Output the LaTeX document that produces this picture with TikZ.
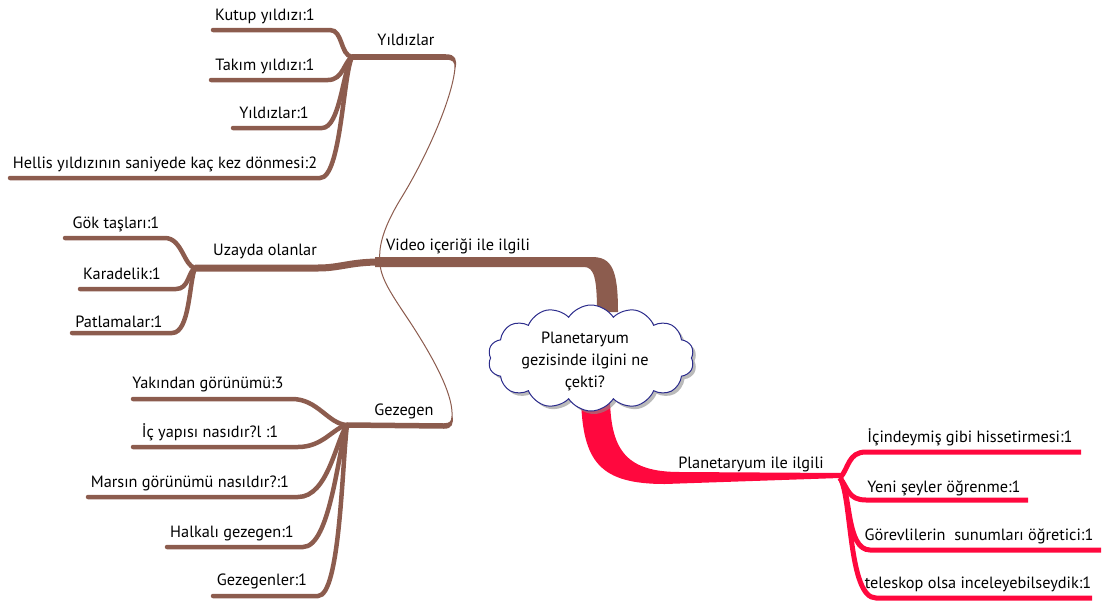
\documentclass[tikz,border=0pt]{standalone}
\usepackage{fontspec}
\setmainfont{PT Sans}
\usetikzlibrary{shapes.symbols,shadows}
\definecolor{brn}{RGB}{140,92,78}
\definecolor{rd}{RGB}{255,8,62}
\definecolor{cloudline}{RGB}{44,44,140}
\begin{document}
\begin{tikzpicture}[x=1pt,y=-1pt,
  lbl/.style={font=\fontsize{16.3}{18}\selectfont, inner sep=0pt, anchor=base},
  bleaf/.style={draw=brn, line width=4.5pt, line cap=round},
  bmid/.style={draw=brn, line width=5.5pt},
  bthin/.style={draw=brn, line width=1pt},
  rleaf/.style={draw=rd, line width=5pt},
  cloudbox/.style={cloud, cloud puffs=14, cloud puff arc=115, aspect=2,
    minimum width=206pt, minimum height=106pt, inner sep=0pt,
    draw=cloudline, line width=1pt, fill=white,
    drop shadow={shadow xshift=3pt, shadow yshift=-3pt, fill=black!45, opacity=0.6}}]
\useasboundingbox (0,0) rectangle (1107,605);

% junctions of the branches
\coordinate (Jy) at (352,57);
\coordinate (Ju) at (195,268);
\coordinate (Jv) at (380,262);
\coordinate (Jg) at (347,425);
\coordinate (Jp) at (840,478);
% corners where the thin stems turn into the branch lines
\coordinate (Cy) at (455,68);
\coordinate (Cg) at (452,416);

% ---------- Video branch: thick trunk from the cloud ----------
\fill[brn] (375,257) -- (592,257) .. controls (612,257) and (618,270) .. (618,312)
  -- (597,312) .. controls (597,278) and (594,267) .. (584,267) -- (375,267) -- cycle;

% thin stems to Yıldızlar and Gezegen
\draw[bthin] (Jv) .. controls (378,245) and (385,225) .. (400,200)
  .. controls (425,160) and (452,100) .. (Cy);
\draw[bthin] (Jv) .. controls (380,278) and (392,295) .. (410,322)
  .. controls (440,368) and (453,398) .. (Cg);

% ---------- Yıldızlar ----------
\draw[bmid] (Jy) -- (446,57);
\fill[brn] (446,54.25) .. controls (456,54.25) and (457,60) .. (455.6,68)
  -- (454.4,68) .. controls (455,62) and (453,59.75) .. (446,59.75) -- cycle;
\draw[bleaf] (213,30) -- (330,30) .. controls (343,30) and (340,55) .. (Jy);
\draw[bleaf] (211,80) -- (328,80) .. controls (343,80) and (344,62) .. (Jy);
\draw[bleaf] (233,128) -- (322,128) .. controls (340,128) and (343,70) .. (Jy);
\draw[bleaf] (10,178) -- (320,178) .. controls (341,178) and (343,75) .. (Jy);
\node[lbl] (yt)  at (406,45)  {Yıldızlar};
\node[lbl] (y1)  at (265,20)  {Kutup yıldızı:1};
\node[lbl] (y2)  at (265,70)  {Takım yıldızı:1};
\node[lbl] (y3)  at (274,118) {Yıldızlar:1};
\node[lbl] (y4)  at (165,168) {Hellis yıldızının saniyede kaç kez dönmesi:2};

% ---------- Uzayda olanlar ----------
\draw[draw=brn, line width=7pt] (Ju) -- (318,268) .. controls (340,268) and (350,262) .. (Jv);
\draw[bleaf] (65,238) -- (165,238) .. controls (182,238) and (184,266) .. (Ju);
\draw[bleaf] (80,289) -- (176,289) .. controls (189,289) and (188,272) .. (Ju);
\draw[bleaf] (72,333) -- (172,333) .. controls (190,333) and (189,282) .. (Ju);
\node[lbl] (ut) at (265,255) {Uzayda olanlar};
\node[lbl] (u1) at (116,228) {Gök taşları:1};
\node[lbl] (u2) at (122,279) {Karadelik:1};
\node[lbl] (u3) at (119,327) {Patlamalar:1};
\node[lbl] (vt) at (458,250) {Video içeriği ile ilgili};

% ---------- Gezegen ----------
\draw[bmid] (Jg) -- (444,426);
\fill[brn] (444,428.75) .. controls (452,428.75) and (453.6,424) .. (452.6,416)
  -- (451.4,416) .. controls (451.6,421) and (450,423.25) .. (444,423.25) -- cycle;
\draw[bleaf] (133,399) -- (292,399) .. controls (318,399) and (328,424) .. (Jg);
\draw[bleaf] (133,447) -- (298,447) .. controls (323,447) and (333,428) .. (Jg);
\draw[bleaf] (88,497) -- (298,497) .. controls (328,497) and (336,440) .. (Jg);
\draw[bleaf] (167,547) -- (303,547) .. controls (330,547) and (338,452) .. (Jg);
\draw[bleaf] (213,596) -- (318,596) .. controls (340,596) and (342,465) .. (Jg);
\node[lbl] (gt) at (404,415) {Gezegen};
\node[lbl] (g1) at (208,388) {Yakından görünümü:3};
\node[lbl] (g2) at (210,437) {İç yapısı nasıdır?l :1};
\node[lbl] (g3) at (190,487) {Marsın görünümü nasıldır?:1};
\node[lbl] (g4) at (232,537) {Halkalı gezegen:1};
\node[lbl] (g5) at (262,585) {Gezegenler:1};

% ---------- Planetaryum ile ilgili ----------
\fill[rd] (581,400) .. controls (583,462) and (600,484) .. (665,484) -- (Jp)
  -- (842,473) -- (680,472) .. controls (628,472) and (611,452) .. (610,400) -- cycle;
\draw[rleaf] (Jp) .. controls (849,468) and (848,452) .. (866,452) -- (1081,452);
\draw[rleaf] (Jp) .. controls (848,488) and (848,500) .. (866,500) -- (1028,500);
\draw[rleaf] (Jp) .. controls (851,492) and (846,550) .. (870,550) -- (1101,550);
\draw[rleaf] (Jp) .. controls (852,496) and (848,598) .. (876,598) -- (1092,598);
\node[lbl] (pt) at (751,468) {Planetaryum ile ilgili};
\node[lbl] (p1) at (970,442) {İçindeymiş gibi hissetirmesi:1};
\node[lbl] (p2) at (944,492) {Yeni şeyler öğrenme:1};
\node[lbl] (p3) at (979,540) {Görevlilerin\ \ sunumları öğretici:1};
\node[lbl] (p4) at (978,588) {teleskop olsa inceleyebilseydik:1};

% ---------- central question ----------
\node[cloudbox] (q) at (591,358) {};
% the base of a multi-line node is the baseline of its last line
\node[font=\fontsize{16.3}{22}\selectfont, align=center, inner sep=0pt, anchor=base]
  (qt) at (585,387) {Planetaryum\\gezisinde ilgini ne\\çekti?};
\end{tikzpicture}
\end{document}
